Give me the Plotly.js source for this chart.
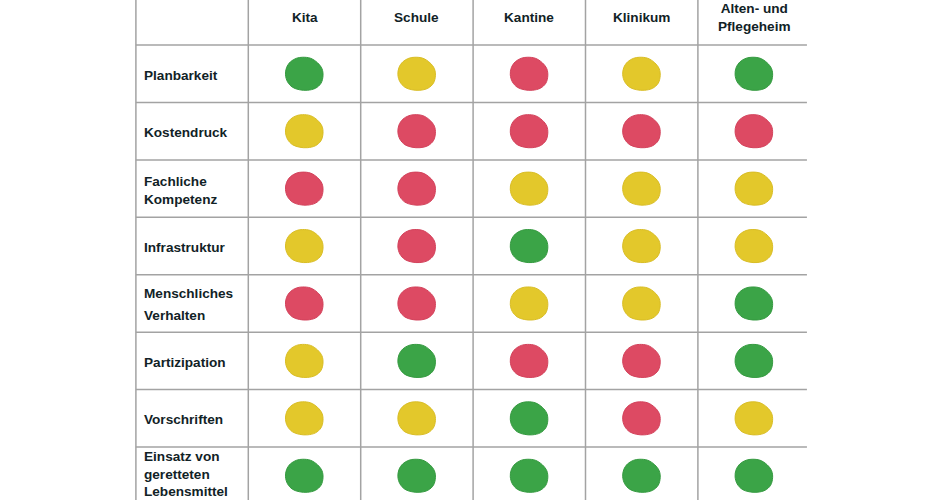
<!DOCTYPE html>
<html>
<head>
<meta charset="utf-8">
<script src="https://cdn.plot.ly/plotly-3.0.1.min.js"></script>
<style>html,body{margin:0;padding:0;background:#fff;}#chart{width:940px;height:500px;}</style>
</head>
<body>
<div id="chart"></div>
<script>
// ---- data ----
const columns = ['Kita', 'Schule', 'Kantine', 'Klinikum', 'Alten- und<br>Pflegeheim'];
const rows = ['Planbarkeit', 'Kostendruck', 'Fachliche<br>Kompetenz', 'Infrastruktur',
  'Menschliches<br>Verhalten', 'Partizipation', 'Vorschriften', 'Einsatz von<br>geretteten<br>Lebensmittel'];
// g = green, y = yellow, r = red
const ratings = [
  ['g', 'y', 'r', 'y', 'g'],
  ['y', 'r', 'r', 'r', 'r'],
  ['r', 'r', 'y', 'y', 'y'],
  ['y', 'r', 'g', 'y', 'y'],
  ['r', 'r', 'y', 'y', 'g'],
  ['y', 'g', 'r', 'r', 'g'],
  ['y', 'y', 'g', 'r', 'y'],
  ['g', 'g', 'g', 'g', 'g']
];

// ---- styles ----
const fillColors = {g: '#3ba447', y: '#e3c82b', r: '#dd4a63'};
const edgeColors = {g: '#359a40', y: '#d9bd25', r: '#d3425b'};
const txtColor = '#112226';
const font = 'Liberation Sans, Arial, sans-serif';
const fsize = 13.6;
const colW = 112.4, rowH = 57.43;           // pixel size of a cell
const x0 = 304.5, y0 = 73.75;               // pixel centre of first cell
const W = 940, H = 500;
const wideGap = {'Menschliches<br>Verhalten': 22};   // labels drawn line by line with a wider gap
const liftPx = {'Einsatz von<br>geretteten<br>Lebensmittel': 3};
// blob outline in pixel offsets from the cell centre
const blob = [[-2,-16.5],[6,-15.5],[13,-11],[17.5,-5],[18.5,2],[16.5,9.5],[11,14.5],[3,16.5],
  [-5,16],[-12,13.5],[-17,8],[-19,1],[-18,-6],[-14,-12],[-8,-15.5],[-2,-16.5]];

const traces = [];
rows.forEach((r, j) => {
  columns.forEach((c, i) => {
    const k = ratings[j][i];
    traces.push({
      type: 'scatter', mode: 'lines', fill: 'toself',
      x: blob.map(p => i + p[0] / colW),
      y: blob.map(p => j + p[1] / rowH),
      line: {color: edgeColors[k], width: 1, shape: 'spline', smoothing: 1},
      fillcolor: fillColors[k], hoverinfo: 'skip', showlegend: false
    });
  });
});

const xr = [(0 - x0) / colW, (W - x0) / colW];
const yr = [(H - y0) / rowH, (0 - y0) / rowH];
const grid = {color: '#a3a3a3', width: 1.5};
const shapes = [];
for (let i = -1; i < columns.length; i++) {
  shapes.push({type: 'line', xref: 'x', yref: 'y', x0: i - 0.5, x1: i - 0.5, y0: yr[1], y1: yr[0], line: grid});
}
for (let j = -1; j < rows.length; j++) {
  shapes.push({type: 'line', xref: 'x', yref: 'y', x0: -1.5, x1: columns.length - 0.53, y0: j + 0.5, y1: j + 0.5, line: grid});
}

const annotations = [];
function addLabel(label, x, y, anchor, xshift, yoff) {
  const common = {xref: 'x', yref: 'y', showarrow: false, xshift: xshift,
    xanchor: anchor, yanchor: 'middle', align: anchor, borderpad: 0,
    font: {family: font, size: fsize, color: txtColor}};
  const off = yoff - (liftPx[label] || 0);
  if (wideGap[label]) {
    const parts = label.split('<br>');
    parts.forEach((p, n) => annotations.push(Object.assign({}, common, {
      x: x, y: y, text: '<b>' + p + '</b>',
      yshift: -((n - (parts.length - 1) / 2) * wideGap[label] + off)
    })));
  } else {
    annotations.push(Object.assign({}, common, {x: x, y: y, text: '<b>' + label + '</b>', yshift: -off}));
  }
}
columns.forEach((c, i) => addLabel(c, i, -1, 'center', 0, 1));
rows.forEach((r, j) => addLabel(r, -1.5, j, 'left', 7, 1.5));

const layout = {
  width: W, height: H, margin: {l: 0, r: 0, t: 0, b: 0},
  paper_bgcolor: '#fff', plot_bgcolor: '#fff',
  xaxis: {range: xr, visible: false, fixedrange: true},
  yaxis: {range: yr, visible: false, fixedrange: true},
  shapes: shapes, annotations: annotations, showlegend: false
};
Plotly.newPlot('chart', traces, layout, {staticPlot: true});
</script>
</body>
</html>
